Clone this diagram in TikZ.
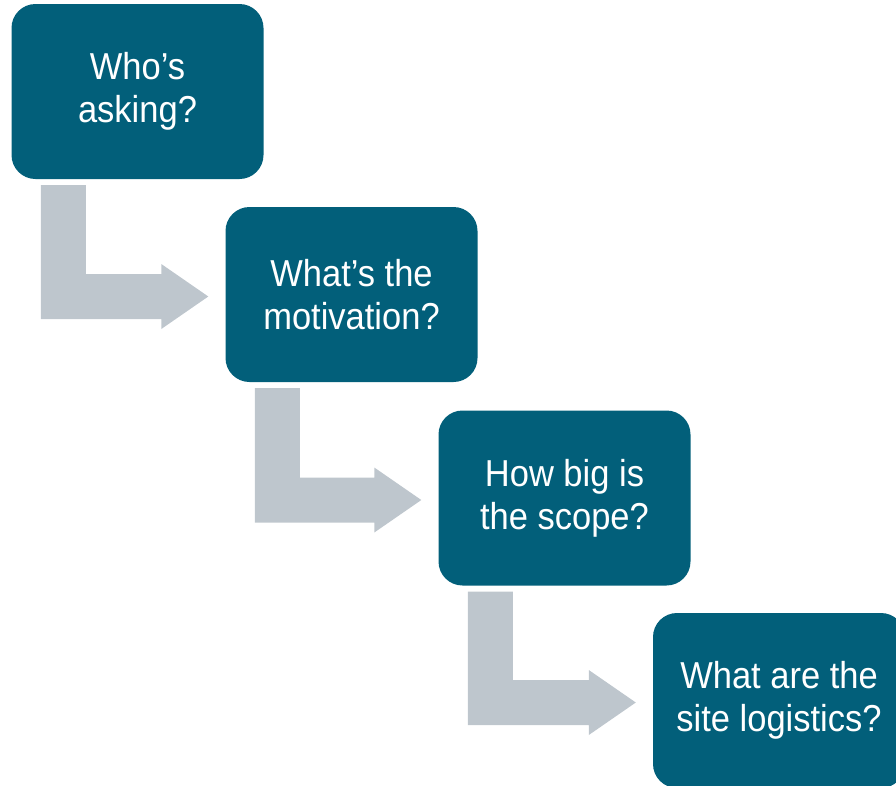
\documentclass[tikz,border=0pt]{standalone}
\usepackage{fontspec}
\setmainfont{Liberation Sans}[FakeStretch=0.92]
\usetikzlibrary{calc}
\definecolor{boxteal}{RGB}{2,95,122}
\definecolor{arrowgray}{RGB}{190,198,205}
\tikzset{
  qbox/.style={fill=boxteal, draw=none, rounded corners=24pt, minimum width=252pt,
    minimum height=175pt, inner sep=0pt, text=white, align=center,
    font=\fontsize{37.5}{43}\selectfont},
  arrowfill/.style={fill=arrowgray}
}
\newcommand\bentarrow[2]{%
  \fill[arrowfill] let \p1=(#1.south west), \p2=(#2.west) in
    (\x1+29.5pt,\y1-6pt) -- (\x1+74.5pt,\y1-6pt) -- (\x1+74.5pt,\y2+20.5pt)
    -- (\x2-64pt,\y2+20.5pt) -- (\x2-64pt,\y2+30.5pt) -- (\x2-17pt,\y2-2pt)
    -- (\x2-64pt,\y2-34.5pt) -- (\x2-64pt,\y2-24.5pt) -- (\x1+29.5pt,\y2-24.5pt) -- cycle;}
\begin{document}
\begin{tikzpicture}[x=1pt,y=-1pt]
\useasboundingbox (0,0) rectangle (896,785);
\clip (0,0) rectangle (896,785);
\node[qbox] (b1) at (137.5,91.5) {Who’s\\asking?};
\node[qbox] (b2) at (351.5,294.5) {What’s the\\motivation?};
\node[qbox] (b3) at (564.5,498) {How big is\\the scope?};
\node[qbox] (b4) at (779,700.5) {What are the\\site logistics?};
\bentarrow{b1}{b2}
\bentarrow{b2}{b3}
\bentarrow{b3}{b4}
\end{tikzpicture}
\end{document}
